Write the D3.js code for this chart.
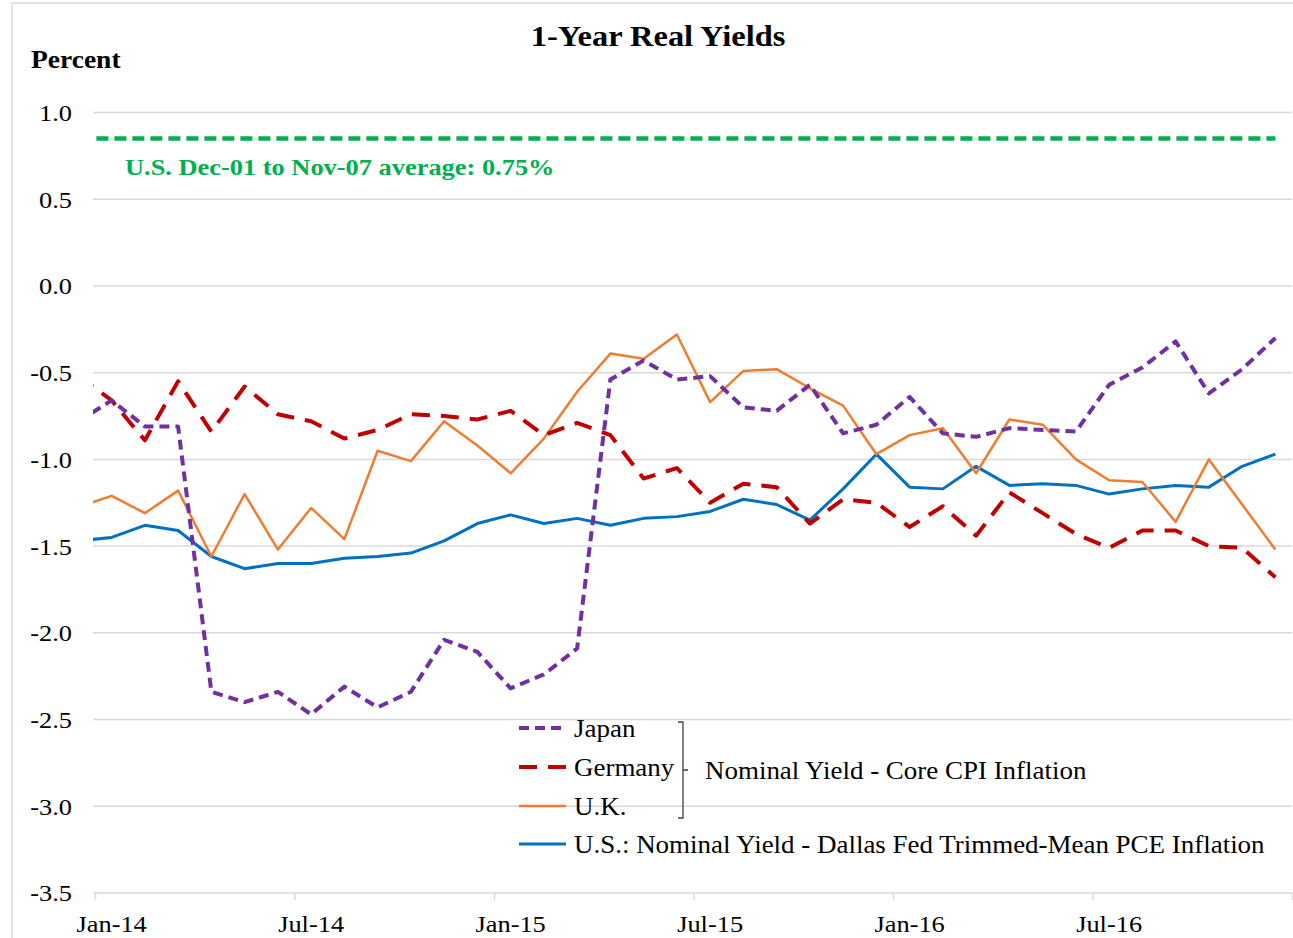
<!DOCTYPE html>
<html>
<head>
<meta charset="utf-8">
<script src="https://cdn.jsdelivr.net/npm/d3@7"></script>
<style>
  body { margin: 0; background: #fff; }
  svg text { font-family: "Times New Roman", "Liberation Serif", serif; }
</style>
</head>
<body>
<svg id="chart" width="1293" height="938"></svg>
<script>
// months plotted: Dec-13 (partly off the left edge) through Dec-16
const months = d3.timeMonths(new Date(2013, 11, 1), new Date(2017, 0, 1));
const tickLabels = ['Jan-14', 'Jul-14', 'Jan-15', 'Jul-15', 'Jan-16', 'Jul-16'];

const japan = [-0.78, -0.66, -0.81, -0.81, -2.34, -2.40, -2.34, -2.47, -2.31, -2.43, -2.34, -2.04, -2.11,
  -2.32, -2.24, -2.09, -0.54, -0.43, -0.54, -0.52, -0.70, -0.72, -0.57, -0.85, -0.80, -0.64, -0.85,
  -0.87, -0.82, -0.83, -0.84, -0.57, -0.47, -0.32, -0.62, -0.48, -0.30];
const germany = [-0.52, -0.66, -0.89, -0.55, -0.84, -0.58, -0.74, -0.78, -0.88, -0.83, -0.74, -0.75, -0.77,
  -0.72, -0.86, -0.79, -0.86, -1.11, -1.05, -1.25, -1.14, -1.16, -1.37, -1.23, -1.25, -1.39, -1.27,
  -1.44, -1.19, -1.31, -1.43, -1.51, -1.41, -1.41, -1.50, -1.51, -1.68];
const uk = [-1.275, -1.21, -1.31, -1.18, -1.56, -1.20, -1.52, -1.28, -1.46, -0.95, -1.01, -0.78, -0.92,
  -1.08, -0.88, -0.61, -0.39, -0.42, -0.28, -0.67, -0.49, -0.48, -0.59, -0.69, -0.97, -0.86, -0.82,
  -1.08, -0.77, -0.80, -1.00, -1.12, -1.13, -1.36, -1.00, -1.26, -1.52];
const us = [-1.47, -1.45, -1.38, -1.41, -1.56, -1.63, -1.60, -1.60, -1.57, -1.56, -1.54, -1.47, -1.37,
  -1.32, -1.37, -1.34, -1.38, -1.34, -1.33, -1.30, -1.23, -1.26, -1.35, -1.17, -0.97, -1.16, -1.17,
  -1.04, -1.15, -1.14, -1.15, -1.20, -1.17, -1.15, -1.16, -1.04, -0.97];
// level of the green dashed reference line as drawn
const usAverage = months.map(() => 0.85);

const series = [
  { name: 'Japan', values: japan, color: '#7030a0', width: 4, dash: '10,6' },
  { name: 'Germany', values: germany, color: '#c00000', width: 4, dash: '18,11' },
  { name: 'U.K.', values: uk, color: '#ed7d31', width: 2.5, dash: null },
  { name: 'U.S.: Nominal Yield - Dallas Fed Trimmed-Mean PCE Inflation', values: us, color: '#0070c0', width: 3, dash: null }
];

const svg = d3.select('#chart');
const gridColor = '#d9d9d9';
// the source text is drawn a little wider than Liberation Serif
const sx = 1.1;
const place = (px, py) => `translate(${px},${py}) scale(${sx},1)`;

// chart frame
svg.append('rect')
  .attr('x', 12).attr('y', 3).attr('width', 1300).attr('height', 950)
  .attr('fill', 'none').attr('stroke', gridColor).attr('stroke-width', 1.5);

const plotLeft = 95, plotRight = 1292, plotTop = 112.5, plotBottom = 893;

// month index scale, Jan-14 = 0; points sit in the middle of each month
const x = d3.scaleLinear().domain([0, 36]).range([plotLeft, plotRight]);
const y = d3.scaleLinear().domain([-3.5, 1.0]).range([plotBottom, plotTop]);
const xOf = i => x(i - 1 + 0.5);

// grid lines
svg.append('g')
  .selectAll('line')
  .data(d3.range(-3.5, 1.01, 0.5))
  .join('line')
  .attr('x1', plotLeft - 2).attr('x2', plotRight)
  .attr('y1', d => y(d)).attr('y2', d => y(d))
  .attr('stroke', gridColor).attr('stroke-width', 1.5);

// y tick labels
svg.append('g')
  .selectAll('text')
  .data(d3.range(-3.5, 1.01, 0.5))
  .join('text')
  .attr('transform', d => place(72, y(d)))
  .attr('dy', '0.35em')
  .attr('text-anchor', 'end')
  .attr('font-size', 24)
  .attr('fill', '#000')
  .text(d => d.toFixed(1));

// x ticks and labels
const xAxis = d3.axisBottom(x)
  .tickValues(d3.range(0, 37, 6))
  .tickSize(7)
  .tickFormat('');
const xg = svg.append('g').attr('transform', `translate(0,${plotBottom})`).call(xAxis);
xg.select('.domain').remove();
xg.selectAll('.tick line').attr('stroke', gridColor).attr('stroke-width', 1.5);

svg.append('g')
  .selectAll('text')
  .data(tickLabels)
  .join('text')
  .attr('transform', (d, i) => place(x(i * 6 + 0.5), 932))
  .attr('text-anchor', 'middle')
  .attr('font-size', 24)
  .text(d => d);

// clip for the plotted lines
svg.append('clipPath').attr('id', 'plot-clip')
  .append('rect')
  .attr('x', plotLeft - 2).attr('y', 0).attr('width', plotRight - plotLeft + 2).attr('height', 938);

const line = d3.line()
  .x((d, i) => xOf(i))
  .y(d => y(d));

const plot = svg.append('g').attr('clip-path', 'url(#plot-clip)');

// green average line
plot.append('path')
  .attr('d', line(usAverage))
  .attr('fill', 'none')
  .attr('stroke', '#00b050')
  .attr('stroke-width', 4.5)
  .attr('stroke-dasharray', '12,6');

// series lines, drawn in reverse so Japan sits on top
plot.selectAll('.series')
  .data(series.slice().reverse())
  .join('path')
  .attr('class', 'series')
  .attr('d', d => line(d.values))
  .attr('fill', 'none')
  .attr('stroke', d => d.color)
  .attr('stroke-width', d => d.width)
  .attr('stroke-dasharray', d => d.dash)
  .attr('stroke-linejoin', 'round');

// title and labels
svg.append('text')
  .attr('transform', place(658, 46))
  .attr('text-anchor', 'middle')
  .attr('font-size', 29.5).attr('font-weight', 'bold')
  .text('1-Year Real Yields');

svg.append('text')
  .attr('transform', place(31, 68))
  .attr('font-size', 25).attr('font-weight', 'bold')
  .text('Percent');

svg.append('text')
  .attr('transform', place(125, 175))
  .attr('font-size', 24).attr('font-weight', 'bold')
  .attr('fill', '#00b050')
  .text('U.S. Dec-01 to Nov-07 average: 0.75%');

// legend
const legendY = [728, 767, 806, 844];
const legend = svg.append('g')
  .selectAll('g')
  .data(series)
  .join('g')
  .attr('transform', (d, i) => `translate(519,${legendY[i]})`);

legend.append('line')
  .attr('x1', 0).attr('x2', 47)
  .attr('stroke', d => d.color)
  .attr('stroke-width', d => d.width)
  .attr('stroke-dasharray', d => d.dash);

legend.append('text')
  .attr('transform', place(55, 0))
  .attr('dy', '0.35em')
  .attr('font-size', 24.5)
  .text(d => d.name);

// bracket grouping the three CPI-based series
const bx = 683;
svg.append('path')
  .attr('d', `M${bx - 5},${legendY[0] - 6} H${bx} V${legendY[2] + 12} H${bx - 5} M${bx},${legendY[1] + 3} H${bx + 5}`)
  .attr('fill', 'none')
  .attr('stroke', '#404040')
  .attr('stroke-width', 1.3);

svg.append('text')
  .attr('transform', place(705, 770))
  .attr('dy', '0.35em')
  .attr('font-size', 24.5)
  .text('Nominal Yield - Core CPI Inflation');
</script>
</body>
</html>
